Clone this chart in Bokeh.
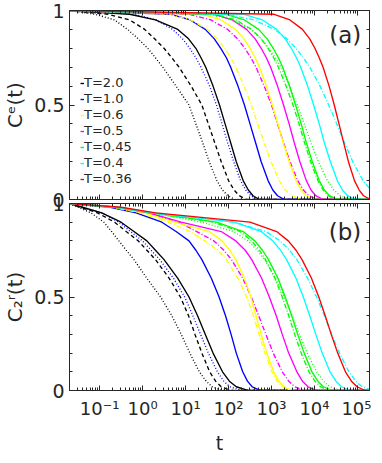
from bokeh.plotting import figure
from bokeh.layouts import column
from bokeh.models import (FixedTicker, CustomJSTickFormatter, Legend, LegendItem,
                          Label, LogAxis, LinearAxis)
from bokeh.embed import file_html
from bokeh.resources import INLINE

# ---------------- data ----------------
TEMPS = ["T=2.0", "T=1.0", "T=0.6", "T=0.5", "T=0.45", "T=0.4", "T=0.36"]
XTICKS = [1e-1, 1e0, 1e1, 1e2, 1e3, 1e4, 1e5]
XTICK_LABELS = ["10\u207b\u00b9", "10\u2070", "10\u00b9", "10\u00b2", "10\u00b3", "10\u2074", "10\u2075"]
YTICKS = [0.0, 0.5, 1.0]
YTICK_LABELS = ["0", "0.5", "1"]
YMINOR = [0.1, 0.2, 0.3, 0.4, 0.6, 0.7, 0.8, 0.9]

# correlation levels; each curve below lists log10(t) where it crosses these levels
LEVELS = [0.98, 0.95, 0.9, 0.85, 0.8, 0.75, 0.7, 0.6, 0.5, 0.4, 0.3, 0.2, 0.1, 0.05, 0.02, 0.0]

# panel (a)  C^e(t)
A_T20_DOT = [-1.1, -0.65, -0.35, -0.1, 0.12, 0.3, 0.47, 0.78, 1.08, 1.24, 1.40, 1.55, 1.73, 1.86, 1.98, 2.15]
A_T20_DASH = [-0.8, -0.3, 0.05, 0.28, 0.50, 0.68, 0.85, 1.13, 1.38, 1.53, 1.68, 1.83, 2.00, 2.13, 2.25, 2.42]
A_T20_SOLID = [-0.3, 0.3, 0.82, 1.07, 1.24, 1.36, 1.47, 1.64, 1.79, 1.92, 2.05, 2.18, 2.34, 2.46, 2.57, 2.72]
A_T10_DOT = [-0.2, 0.31, 0.70, 0.93, 1.10, 1.24, 1.36, 1.56, 1.72, 1.85, 1.98, 2.12, 2.28, 2.40, 2.52, 2.68]
A_T10_SOLID = [0.66, 1.11, 1.46, 1.67, 1.82, 1.95, 2.05, 2.22, 2.37, 2.50, 2.63, 2.76, 2.92, 3.03, 3.14, 3.30]
A_T06_DASHDOT = [0.61, 1.12, 1.51, 1.74, 1.91, 2.05, 2.17, 2.36, 2.53, 2.68, 2.83, 2.99, 3.18, 3.32, 3.47, 3.68]
A_T06_SOLID = [1.40, 1.83, 2.16, 2.36, 2.50, 2.62, 2.72, 2.88, 3.02, 3.15, 3.27, 3.41, 3.57, 3.69, 3.81, 3.99]
A_T05_DASHDOT = [1.08, 1.59, 1.98, 2.21, 2.38, 2.52, 2.64, 2.83, 3.00, 3.14, 3.28, 3.43, 3.61, 3.74, 3.87, 4.05]
A_T05_SOLID = [1.66, 2.09, 2.42, 2.62, 2.76, 2.88, 2.98, 3.14, 3.28, 3.41, 3.53, 3.66, 3.81, 3.92, 4.03, 4.20]
A_T045_DASHDOT = [1.69, 2.17, 2.54, 2.76, 2.92, 3.05, 3.16, 3.34, 3.50, 3.64, 3.77, 3.91, 4.08, 4.20, 4.32, 4.50]
A_T045_SOLID = [1.94, 2.37, 2.70, 2.90, 3.04, 3.16, 3.26, 3.42, 3.56, 3.69, 3.81, 3.95, 4.11, 4.23, 4.35, 4.53]
A_T045_DOT = [1.55, 2.09, 2.51, 2.76, 2.94, 3.09, 3.22, 3.42, 3.60, 3.76, 3.92, 4.09, 4.30, 4.45, 4.60, 4.83]
A_T04_SOLID = [2.36, 2.79, 3.12, 3.32, 3.46, 3.58, 3.68, 3.84, 3.98, 4.11, 4.23, 4.37, 4.53, 4.65, 4.77, 4.95]
A_T04_DASHDOT = [1.97, 2.59, 3.07, 3.36, 3.57, 3.74, 3.89, 4.13, 4.33, 4.52, 4.70, 4.89, 5.13, 5.31, 5.49, 5.75]
A_T036_SOLID = [3.06, 3.43, 3.72, 3.89, 4.01, 4.11, 4.20, 4.34, 4.46, 4.57, 4.68, 4.79, 4.93, 5.04, 5.14, 5.30]

# panel (b)  C_2^r(t)
B_T20_DOT = [-1.5, -1.2, -0.9, -0.72, -0.55, -0.38, -0.2, 0.10, 0.42, 0.68, 0.90, 1.10, 1.32, 1.48, 1.62, 1.85]
B_T20_DASH = [-1.45, -1.05, -0.65, -0.38, -0.10, 0.10, 0.30, 0.62, 0.88, 1.07, 1.22, 1.38, 1.56, 1.70, 1.83, 2.05]
B_T20_SOLID = [-1.4, -0.95, -0.5, -0.2, 0.10, 0.30, 0.50, 0.82, 1.08, 1.28, 1.46, 1.64, 1.86, 2.02, 2.18, 2.45]
B_T10_DOT = [-1.4, -0.95, -0.55, -0.28, 0.00, 0.20, 0.40, 0.72, 0.98, 1.17, 1.35, 1.53, 1.74, 1.89, 2.03, 2.30]
B_T10_SOLID = [-0.75, -0.15, 0.45, 0.78, 1.08, 1.24, 1.38, 1.60, 1.78, 1.93, 2.06, 2.18, 2.33, 2.44, 2.55, 2.75]
B_T06_DASHDOT = [-0.7, -0.05, 0.6, 1.10, 1.45, 1.75, 1.95, 2.22, 2.42, 2.58, 2.71, 2.85, 3.01, 3.13, 3.25, 3.43]
B_T06_SOLID = [-0.65, 0.05, 0.75, 1.55, 1.85, 2.03, 2.17, 2.37, 2.52, 2.64, 2.76, 2.89, 3.05, 3.17, 3.29, 3.47]
B_T05_DASHDOT = [-0.6, 0.1, 0.85, 1.26, 1.66, 1.89, 2.07, 2.33, 2.53, 2.70, 2.87, 3.04, 3.25, 3.40, 3.54, 3.76]
B_T05_SOLID = [-0.6, 0.15, 0.9, 1.83, 2.17, 2.39, 2.54, 2.77, 2.95, 3.11, 3.25, 3.40, 3.59, 3.72, 3.85, 4.05]
B_T045_DASHDOT = [-0.6, 0.2, 1.65, 2.27, 2.54, 2.72, 2.86, 3.08, 3.25, 3.40, 3.54, 3.69, 3.87, 4.01, 4.14, 4.33]
B_T045_SOLID = [-0.6, 0.25, 1.72, 2.34, 2.61, 2.79, 2.93, 3.15, 3.32, 3.47, 3.61, 3.76, 3.94, 4.08, 4.21, 4.40]
B_T045_DOT = [-0.6, 0.2, 1.38, 2.12, 2.45, 2.67, 2.84, 3.09, 3.30, 3.48, 3.65, 3.83, 4.05, 4.21, 4.36, 4.60]
B_T04_SOLID = [-0.55, 0.25, 2.14, 2.76, 3.03, 3.21, 3.35, 3.57, 3.74, 3.89, 4.03, 4.18, 4.36, 4.50, 4.63, 4.82]
B_T04_DASHDOT = [-0.6, 0.2, 2.13, 2.87, 3.20, 3.42, 3.59, 3.84, 4.05, 4.23, 4.40, 4.58, 4.80, 4.96, 5.11, 5.35]
B_T036_SOLID = [-0.5, 0.3, 2.50, 3.12, 3.39, 3.57, 3.71, 3.93, 4.10, 4.25, 4.39, 4.54, 4.72, 4.86, 4.99, 5.18]

# ---------------- styles ----------------
COLORS = {"T=2.0": "#000000", "T=1.0": "#0000ff", "T=0.6": "#ffff00", "T=0.5": "#ff00ff",
          "T=0.45": "#00ff00", "T=0.4": "#00ffff", "T=0.36": "#ff0000"}
DASHES = {"solid": "solid", "dash": "4 3", "dot": "1 2", "dashdot": "5 2 1 2"}

CURVES_A = [("T=2.0", "dot", A_T20_DOT), ("T=2.0", "dash", A_T20_DASH), ("T=1.0", "dot", A_T10_DOT),
            ("T=2.0", "solid", A_T20_SOLID), ("T=1.0", "solid", A_T10_SOLID),
            ("T=0.6", "dashdot", A_T06_DASHDOT), ("T=0.5", "dashdot", A_T05_DASHDOT),
            ("T=0.6", "solid", A_T06_SOLID), ("T=0.5", "solid", A_T05_SOLID),
            ("T=0.45", "dashdot", A_T045_DASHDOT), ("T=0.45", "dot", A_T045_DOT),
            ("T=0.45", "solid", A_T045_SOLID), ("T=0.4", "dashdot", A_T04_DASHDOT),
            ("T=0.4", "solid", A_T04_SOLID), ("T=0.36", "solid", A_T036_SOLID)]
CURVES_B = [("T=2.0", "dot", B_T20_DOT), ("T=2.0", "dash", B_T20_DASH), ("T=1.0", "dot", B_T10_DOT),
            ("T=2.0", "solid", B_T20_SOLID), ("T=1.0", "solid", B_T10_SOLID),
            ("T=0.6", "dashdot", B_T06_DASHDOT), ("T=0.5", "dashdot", B_T05_DASHDOT),
            ("T=0.6", "solid", B_T06_SOLID), ("T=0.5", "solid", B_T05_SOLID),
            ("T=0.45", "dashdot", B_T045_DASHDOT), ("T=0.45", "dot", B_T045_DOT),
            ("T=0.45", "solid", B_T045_SOLID), ("T=0.4", "dashdot", B_T04_DASHDOT),
            ("T=0.4", "solid", B_T04_SOLID), ("T=0.36", "solid", B_T036_SOLID)]

X_LO, X_HI = -1.70, 5.28
FONT = "DejaVu Sans"
INK = "#262626"

XMINOR = [k * 10.0 ** e for e in range(-2, 6) for k in range(2, 10)]

fmt_js = """
const lt = Math.log10(tick);
for (let i = 0; i < tv.length; i++) {
  if (Math.abs(Math.log10(tv[i]) - lt) < 1e-6) return tl[i];
}
return "";
"""
yfmt_js = """
for (let i = 0; i < tv.length; i++) {
  if (Math.abs(tv[i] - tick) < 1e-6) return tl[i];
}
return "";
"""
blank_fmt = CustomJSTickFormatter(code="return '';")


def style_axis(ax, show_labels, size):
    ax.axis_line_color = INK
    ax.major_tick_line_color = INK
    ax.minor_tick_line_color = INK
    ax.major_tick_in = 5
    ax.major_tick_out = 0
    ax.minor_tick_in = 3
    ax.minor_tick_out = 0
    ax.major_label_text_font = FONT
    ax.major_label_text_color = INK
    ax.axis_label_text_font = FONT
    ax.axis_label_text_color = INK
    ax.axis_label_text_font_style = "normal"
    if show_labels:
        ax.major_label_text_font_size = size
    else:
        ax.formatter = blank_fmt
        ax.major_label_text_font_size = "0px"
        ax.major_label_standoff = 0


def make_panel(curves, ylabel, frame_h, top, bottom, bottom_labels, tag, tag_y):
    p = figure(frame_width=300, frame_height=frame_h, x_axis_type="log",
               x_range=(10 ** X_LO, 10 ** X_HI), y_range=(0, 1),
               output_backend="svg", toolbar_location=None,
               min_border_left=66, min_border_right=2, min_border_top=top,
               min_border_bottom=bottom)
    p.xgrid.visible = False
    p.ygrid.visible = False
    p.outline_line_color = INK
    p.background_fill_color = "white"

    xt = FixedTicker(ticks=XTICKS, minor_ticks=XMINOR)
    yt = FixedTicker(ticks=YTICKS, minor_ticks=YMINOR)
    xf = CustomJSTickFormatter(args=dict(tv=XTICKS, tl=XTICK_LABELS), code=fmt_js)
    yf = CustomJSTickFormatter(args=dict(tv=YTICKS, tl=YTICK_LABELS), code=yfmt_js)

    p.xaxis.ticker = xt
    p.xaxis.formatter = xf
    p.yaxis.ticker = yt
    p.yaxis.formatter = yf
    style_axis(p.xaxis[0], bottom_labels, "18px")
    style_axis(p.yaxis[0], True, "19px")
    p.yaxis.major_label_standoff = 5
    p.yaxis.axis_label = ylabel
    p.yaxis.axis_label_text_font_size = "20px"
    p.yaxis.axis_label_standoff = 4
    if bottom_labels:
        p.xaxis.axis_label = "t"
        p.xaxis.axis_label_text_font_size = "19px"
        p.xaxis.major_label_standoff = 7
        p.xaxis.axis_label_standoff = 10

    top_ax = LogAxis(ticker=xt)
    style_axis(top_ax, False, "0px")
    p.add_layout(top_ax, "above")
    right_ax = LinearAxis(ticker=yt)
    style_axis(right_ax, False, "0px")
    p.add_layout(right_ax, "right")

    solid_r = {}
    for temp, dash, row in curves:
        xs = [10 ** X_LO] + [10 ** v for v in row]
        ys = [1.0] + LEVELS
        if row[-1] < X_HI:
            xs.append(10 ** X_HI)
            ys.append(0.0)
        r = p.line(xs, ys, line_color=COLORS[temp], line_width=1.35,
                   line_dash=DASHES[dash])
        if dash == "solid":
            solid_r[temp] = r

    p.add_layout(Label(x=10 ** 5.09, y=tag_y, text=tag, text_align="right",
                       text_baseline="middle", text_font=FONT, text_font_size="23px",
                       text_color=INK))
    return p, solid_r


p1, sr = make_panel(CURVES_A, "C\u1d49(t)", 189, 10, 14, False, "(a)", 0.873)
p2, _ = make_panel(CURVES_B, "C\u2082\u02b3(t)", 187, 14, 2, True, "(b)", 0.85)
p2.border_fill_alpha = 0
p2.margin = (-24, 0, 0, 0)

legend = Legend(items=[LegendItem(label=t, renderers=[sr[t]]) for t in TEMPS],
                location=(11, 13), padding=0, margin=0, spacing=1,
                glyph_width=4, glyph_height=12, label_height=12, label_standoff=0,
                label_text_font=FONT, label_text_font_size="13px", label_text_color=INK,
                border_line_alpha=0, background_fill_alpha=0)
p1.add_layout(legend)

page = column(p1, p2)
open("out.html", "w").write(file_html(page, INLINE))
